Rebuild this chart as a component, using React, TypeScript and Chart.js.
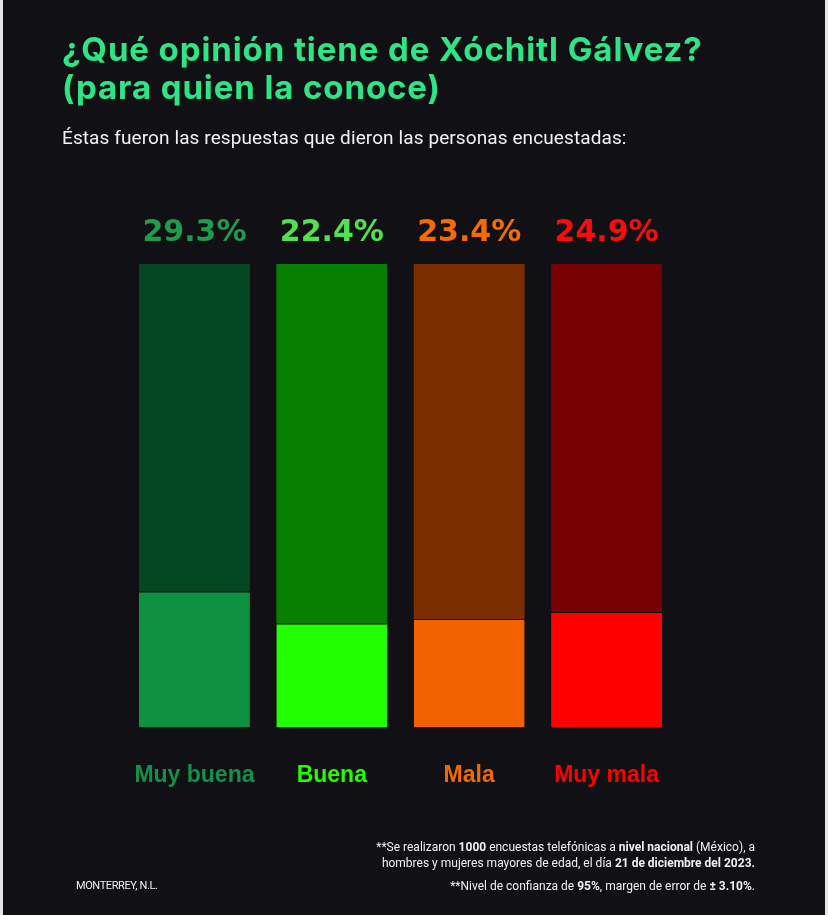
import React, { useEffect, useRef } from "react";
import { Chart, registerables } from "chart.js";

Chart.register(...registerables);

const categories = ["Muy buena", "Buena", "Mala", "Muy mala"];
const values = [29.3, 22.4, 23.4, 24.9];
const valueLabels = ["29.3%", "22.4%", "23.4%", "24.9%"];
const totalScale = 100;

const valueColors = ["#0e9141", "#22ff00", "#f26100", "#ff0000"];
const trackColors = ["#034822", "#077f00", "#7a2e00", "#770000"];
const pctColors = ["#1c9c4c", "#50e050", "#f56b00", "#ff0a0a"];
const catColors = ["#13904a", "#22ff00", "#f06a00", "#ff0000"];

const pctPlugin = {
  id: "pctLabels",
  afterDatasetsDraw(chart: any) {
    const ctx = chart.ctx;
    const meta = chart.getDatasetMeta(1);
    ctx.save();
    ctx.font = "bold 30px 'DejaVu Sans'";
    ctx.textAlign = "center";
    ctx.textBaseline = "alphabetic";
    meta.data.forEach((el: any, i: number) => {
      ctx.fillStyle = pctColors[i];
      ctx.fillText(valueLabels[i], el.x, el.y - 23);
    });
    ctx.restore();
  },
};

export default function App() {
  const ref = useRef<HTMLCanvasElement>(null);
  useEffect(() => {
    document.body.style.margin = "0";
    const chart = new Chart(ref.current!, {
      type: "bar",
      data: {
        labels: categories,
        datasets: [
          {
            data: values,
            backgroundColor: valueColors,
            borderColor: "#150a05",
            borderWidth: { top: 1, left: 0, right: 0, bottom: 0 },
            borderSkipped: false,
            stack: "s",
            barPercentage: 0.9,
            categoryPercentage: 0.897,
          },
          {
            data: values.map((v) => totalScale - v),
            backgroundColor: trackColors,
            borderWidth: 0,
            stack: "s",
            barPercentage: 0.9,
            categoryPercentage: 0.897,
          },
        ],
      },
      options: {
        responsive: false,
        animation: false,
        layout: { padding: { left: 125.75, right: 152.75, top: 264, bottom: 92 } },
        plugins: { legend: { display: false }, tooltip: { enabled: false } },
        scales: {
          x: {
            stacked: true,
            grid: { display: false, drawTicks: false },
            border: { display: false },
            ticks: {
              padding: 34,
              font: { family: "'Liberation Sans', Arial", size: 23, weight: "bold" },
              color: catColors as any,
            },
          },
          y: {
            stacked: true,
            display: false,
            min: 0,
            max: totalScale,
          },
        },
      },
      plugins: [pctPlugin],
    });
    return () => chart.destroy();
  }, []);

  return (
    <div style={{ position: "absolute", left: 0, top: 0, width: 828, height: 915, background: "#e6e6ea", overflow: "hidden" }}>
      <div style={{ position: "absolute", left: 3, top: 0, width: 822, height: 915, background: "#111014" }} />
      <canvas ref={ref} width={828} height={915} style={{ position: "absolute", left: 0, top: 0, width: 828, height: 915 }} />
      <div style={{ position: "absolute", left: 62, top: 30, color: "#2ee586", fontFamily: "Inter", fontWeight: 700, fontSize: 33, lineHeight: "38px", letterSpacing: "0.9px", whiteSpace: "nowrap" }}>
        ¿Qué opinión tiene de Xóchitl Gálvez?<br />(para quien la conoce)
      </div>
      <div style={{ position: "absolute", left: 62, top: 127, color: "#f2f2f2", fontFamily: "Roboto", fontWeight: 400, fontSize: 19, lineHeight: "22px", letterSpacing: "0.1px", whiteSpace: "nowrap" }}>
        Éstas fueron las respuestas que dieron las personas encuestadas:
      </div>
      <div style={{ position: "absolute", right: 73, top: 839, color: "#f0f0f0", fontFamily: "Roboto", fontSize: 12, lineHeight: "16px", textAlign: "right", whiteSpace: "nowrap" }}>
        **Se realizaron <b>1000</b> encuestas telefónicas a <b>nivel nacional</b> (México), a<br />
        hombres y mujeres mayores de edad, el día <b>21 de diciembre del 2023.</b>
      </div>
      <div style={{ position: "absolute", right: 73, top: 878, color: "#f0f0f0", fontFamily: "Roboto", fontSize: 12, lineHeight: "16px", textAlign: "right", whiteSpace: "nowrap" }}>
        **Nivel de confianza de <b>95%</b>, margen de error de <b>± 3.10%</b>.
      </div>
      <div style={{ position: "absolute", left: 76, top: 878, color: "#f0f0f0", fontFamily: "Roboto", fontSize: 11, lineHeight: "16px", letterSpacing: "-0.4px", whiteSpace: "nowrap" }}>
        MONTERREY, N.L.
      </div>
    </div>
  );
}
